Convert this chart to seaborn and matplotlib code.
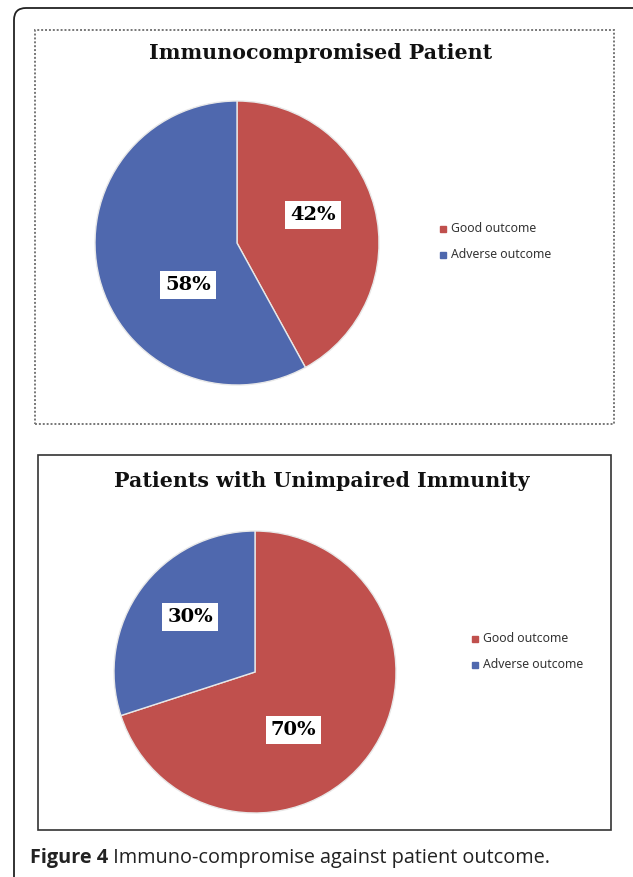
import matplotlib
matplotlib.use("Agg")
import matplotlib.pyplot as plt
import seaborn as sns
from matplotlib.patches import FancyBboxPatch, Rectangle

sns.set_style("white")

# data
outcomes = ["Good outcome", "Adverse outcome"]
immunocompromised = [42, 58]
unimpaired = [70, 30]
titles = ["Immunocompromised Patient", "Patients with Unimpaired Immunity"]
caption_bold = "Figure 4"
caption_rest = " Immuno-compromise against patient outcome."

colors = ["#C0504D", "#4F68AE"]
W, H = 633, 877
fig = plt.figure(figsize=(W / 100, H / 100), dpi=100)


def px_axes(x0, y0, x1, y1):
    # image pixel box (top-left origin) -> figure axes
    return fig.add_axes([x0 / W, 1 - y1 / H, (x1 - x0) / W, (y1 - y0) / H])


# outer rounded page border (only top-left corner visible)
fig.patches.append(FancyBboxPatch((14, -40), 700, H - 8 + 40,
                                  boxstyle="round,pad=0,rounding_size=12",
                                  transform=None, fill=False, lw=1.3,
                                  edgecolor="#222222"))

# panel frames
fig.patches.append(Rectangle((35, H - 424), 579, 394, transform=None, fill=False,
                             lw=1.4, edgecolor="#777777", linestyle=(0, (1, 1))))
fig.patches.append(Rectangle((38, H - 830), 573, 375, transform=None, fill=False,
                             lw=1.2, edgecolor="#333333"))


def draw_pie(cx, cy, r, values, label_pos, legend_xy, title, title_x, title_y):
    ax = px_axes(cx - r, cy - r, cx + r, cy + r)
    wedges, _ = ax.pie(values, colors=colors, startangle=90, counterclock=False,
                       wedgeprops=dict(edgecolor="#e8e8e8", linewidth=1.0))
    ax.set_xlim(-1, 1)
    ax.set_ylim(-1, 1)
    ax.set_aspect("auto")
    for v, (lx, ly) in zip(values, label_pos):
        ax.text(lx, ly, f"{v}%", ha="center", va="center", fontsize=14,
                fontweight="bold", family="DejaVu Serif", color="black",
                bbox=dict(boxstyle="square,pad=0.25", fc="white", ec="none"))
    fig.text(title_x / W, 1 - title_y / H, title, ha="center", va="center",
             fontsize=14.8, fontweight="bold", family="DejaVu Serif",
             color="#111111")
    lx, ly = legend_xy
    for i, name in enumerate(outcomes):
        y = ly + i * 26
        fig.patches.append(Rectangle((lx - 3, H - y - 3), 6, 6, transform=None,
                                     color=colors[i]))
        fig.text((lx + 8) / W, 1 - y / H, name, ha="left", va="center",
                 fontsize=8.8, family="Noto Sans", color="#333333")


draw_pie(237, 243, 142, immunocompromised,
         [(0.535, 0.197), (-0.345, -0.296)], (443, 229), titles[0], 321, 53)
draw_pie(255, 672, 141, unimpaired,
         [(0.275, -0.41), (-0.46, 0.39)], (475, 639), titles[1], 322, 481)

t = fig.text(30 / W, 1 - 858 / H, caption_bold, ha="left", va="center",
             fontsize=14.3, fontweight="bold", family="Open Sans", color="#222222")
fig.canvas.draw()
bb = t.get_window_extent()
fig.text(bb.x1 / W, 1 - 858 / H, caption_rest, ha="left", va="center",
         fontsize=14.3, family="Open Sans", color="#222222")

fig.savefig("out.png", dpi=100)
